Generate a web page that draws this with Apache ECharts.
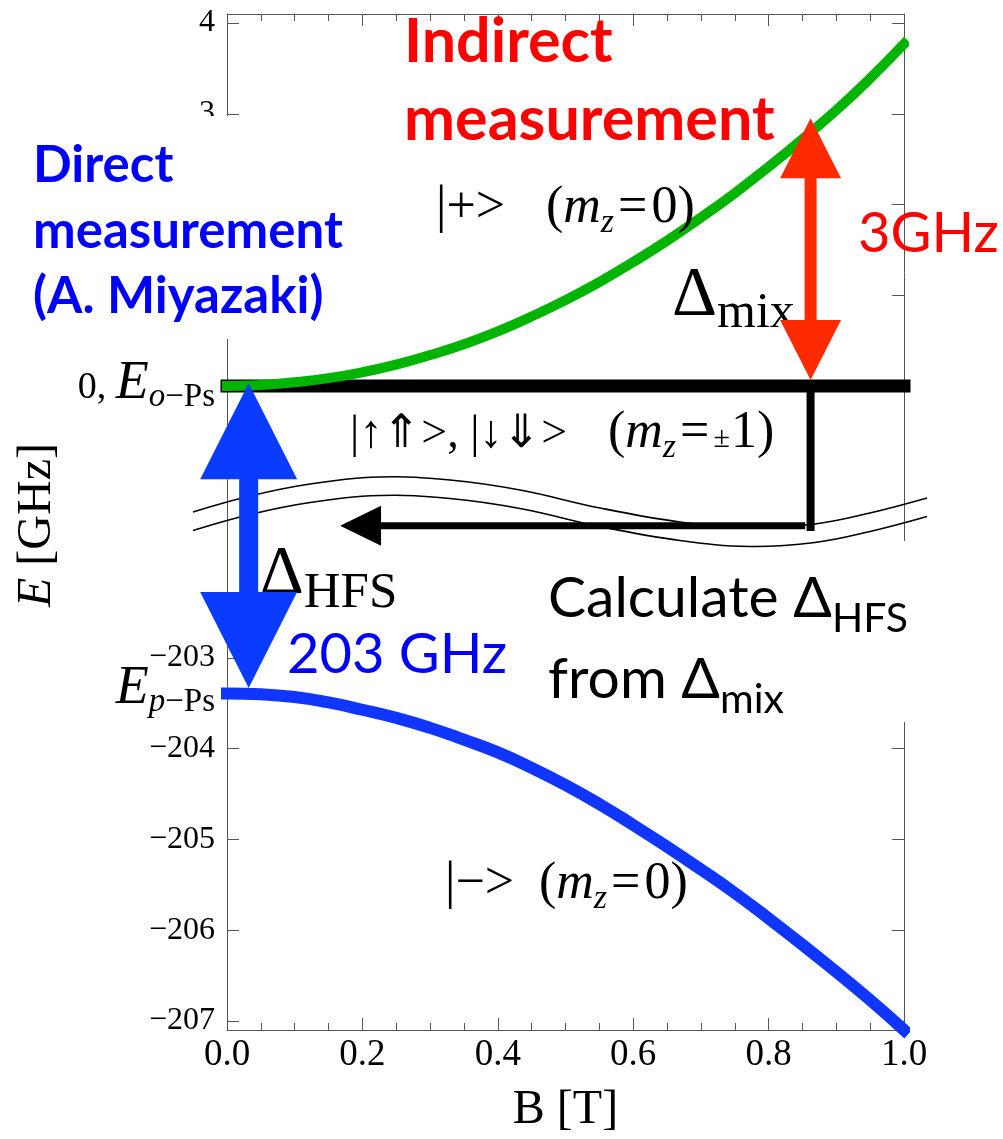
<!DOCTYPE html>
<html><head><meta charset="utf-8">
<script src="https://cdn.jsdelivr.net/npm/echarts@6/dist/echarts.min.js"></script>
<style>html,body{margin:0;padding:0;background:#fff}#c{width:1003px;height:1139px}</style>
</head><body><div id="c"></div>
<script>
// ---- data ----
const fieldB   = [0, 0.05, 0.1, 0.15, 0.2, 0.25, 0.3, 0.35, 0.4, 0.45, 0.5, 0.55, 0.6, 0.65, 0.7, 0.75, 0.8, 0.85, 0.9, 0.95, 1.0]; // B [T]
const ePlus    = [0, 0.01, 0.04, 0.085, 0.15, 0.235, 0.34, 0.46, 0.60, 0.765, 0.945, 1.145, 1.365, 1.60, 1.855, 2.125, 2.415, 2.72, 3.04, 3.39, 3.77]; // |+> (GHz)
const eMinus   = [-203.39, -203.40, -203.43, -203.49, -203.57, -203.66, -203.77, -203.90, -204.04, -204.21, -204.40, -204.61, -204.84, -205.08, -205.33, -205.59, -205.87, -206.16, -206.46, -206.77, -207.10]; // |-> (GHz)
const tripletB = [0, 1];
const eTriplet = [0, 0];                       // |↑⇑>, |↓⇓>
const mixB     = 0.862;                        // field where Δmix is measured
const mixArrow = [0.066, 2.95];                // Δmix arrow (GHz)
const hfsArrowB = 0.032;
const hfsArrowTop = 0.03, hfsArrowBottom = -203.33;
const calcArrowE = -1.543, calcArrowB = [0.854, 0.167];
const topTicks = [0, 1, 2, 3, 4];
const topLabels = [3, 4];
const lowTicks = [-203.39, -203, -204, -205, -206, -207];
const lowLabels = [-203, -204, -205, -206, -207];
const rightLowTicks = [-203, -204, -205, -206, -207];

const SERIF = '"Liberation Serif","Times New Roman",serif';
const SANS = 'Lato,"Noto Sans","Open Sans",sans-serif';
const frameColor = '#555';

const chart = echarts.init(document.getElementById('c'));
const pairs = (xs, ys) => xs.map((x, i) => [x, ys[i]]);

const axLine = {show: true, onZero: false, lineStyle: {color: frameColor, width: 1}};
const tick = (vals) => ({show: true, inside: true, length: 12, lineStyle: {color: frameColor}, customValues: vals});

chart.setOption({
  animation: false,
  grid: [
    {left: 227, top: 14, width: 677, height: 517},
    {left: 227, top: 531, width: 677, height: 499}
  ],
  xAxis: [
    {gridIndex: 0, type: 'value', position: 'top', min: 0, max: 1, interval: 0.2,
     axisLine: axLine, axisTick: {show: true, inside: true, length: 12, lineStyle: {color: frameColor}},
     minorTick: {show: true, splitNumber: 4, length: 7, lineStyle: {color: frameColor}},
     axisLabel: {show: false}, splitLine: {show: false}},
    {gridIndex: 1, type: 'value', position: 'bottom', min: 0, max: 1, interval: 0.2,
     axisLine: axLine, axisTick: {show: true, inside: true, length: 12, lineStyle: {color: frameColor}},
     minorTick: {show: true, splitNumber: 4, length: 7, lineStyle: {color: frameColor}},
     axisLabel: {show: true, margin: 7, fontFamily: SERIF, fontSize: 37, color: '#000', formatter: v => v.toFixed(1)},
     splitLine: {show: false},
     name: 'B [T]', nameLocation: 'middle', nameGap: 56,
     nameTextStyle: {fontFamily: SERIF, fontSize: 48, color: '#000'}}
  ],
  yAxis: [
    {gridIndex: 0, type: 'value', position: 'left', min: -1.6, max: 4.1,
     axisLine: axLine, axisTick: tick(topTicks), splitLine: {show: false},
     axisLabel: {customValues: topLabels, margin: 12, fontFamily: SERIF, fontSize: 32, color: '#000', formatter: v => String(v)}},
    {gridIndex: 0, type: 'value', position: 'right', min: -1.6, max: 4.1,
     axisLine: axLine, axisTick: tick(topTicks), splitLine: {show: false}, axisLabel: {show: false}},
    {gridIndex: 1, type: 'value', position: 'left', min: -207.1, max: -201.6,
     axisLine: axLine, axisTick: tick(lowTicks), splitLine: {show: false},
     axisLabel: {customValues: lowLabels, margin: 12, fontFamily: SERIF, fontSize: 32, color: '#000',
                 formatter: v => '\u2212' + Math.abs(v)}},
    {gridIndex: 1, type: 'value', position: 'right', min: -207.1, max: -201.6,
     axisLine: axLine, axisTick: tick(rightLowTicks), splitLine: {show: false}, axisLabel: {show: false}}
  ],
  series: [
    {type: 'line', xAxisIndex: 0, yAxisIndex: 0, data: pairs(tripletB, eTriplet), symbol: 'none', clip: false, z: 3,
     lineStyle: {color: '#000', width: 13, cap: 'square'}},
    {type: 'line', xAxisIndex: 0, yAxisIndex: 0, data: [[mixB, 0], [mixB, -1.6]], symbol: 'none', clip: false, z: 3,
     lineStyle: {color: '#000', width: 8}},
    {type: 'line', xAxisIndex: 0, yAxisIndex: 0, data: pairs(fieldB, ePlus), symbol: 'none', smooth: 0.5, clip: false, z: 4,
     lineStyle: {color: '#00b400', width: 10, cap: 'square', join: 'round'}},
    {type: 'line', xAxisIndex: 1, yAxisIndex: 2, data: pairs(fieldB, eMinus), symbol: 'none', smooth: 0.5, clip: false, z: 4,
     lineStyle: {color: '#0f35ff', width: 12, cap: 'square', join: 'round'}}
  ]
});

// ---- annotations ----
const mctx = document.createElement('canvas').getContext('2d');
function fnt(p) { return (p.italic ? 'italic ' : '') + (p.bold ? 'bold ' : '') + p.size + 'px ' + (p.family || SERIF); }
function run(x0, baseline, pieces, align, z, color) {
  const ws = pieces.map(p => { mctx.font = fnt(p); return mctx.measureText(p.t).width; });
  let total = 0; pieces.forEach((p, i) => total += ws[i] + (p.gap || 0));
  let x = align === 'right' ? x0 - total : x0;
  return pieces.map((p, i) => {
    if (p.x !== undefined) x = p.x; else x += (p.gap || 0);
    mctx.font = fnt(p); mctx.textBaseline = 'middle';
    const off = mctx.measureText('H').actualBoundingBoxDescent;
    const el = {type: 'text', x: x, y: baseline + (p.dy || 0) - off, z: z || 20, silent: true,
      style: {text: p.t, font: fnt(p), fill: p.color || color || '#000', align: 'left', verticalAlign: 'middle'}};
    x += ws[i];
    return el;
  });
}
const px = (g, b, e) => chart.convertToPixel(g === 0 ? {xAxisIndex: 0, yAxisIndex: 0} : {xAxisIndex: 1, yAxisIndex: 2}, [b, e]);

const G = [];
// white boxes of the text blocks
G.push({type: 'rect', shape: {x: 20, y: 116, width: 345, height: 223}, style: {fill: '#fff'}, z: 10, silent: true});
G.push({type: 'rect', shape: {x: 535, y: 541, width: 395, height: 181}, style: {fill: '#fff'}, z: 10, silent: true});

// axis-break wavy lines
const wave = [[193,512],[250,496],[310,484],[380,477],[450,480],[520,490],[600,508],[680,522],[750,528],[815,524],[870,513],[927,498]];
[0, 18.5].forEach(d => G.push({type: 'polyline', z: 12, silent: true,
  shape: {points: wave.map(p => [p[0], p[1] + d]), smooth: 0.4},
  style: {stroke: '#000', lineWidth: 1.6, fill: null}}));

// arrows
function vArrow(cx, yT, yB, hl, hh, sh, color, z) {
  return {type: 'polygon', z: z, silent: true, style: {fill: color},
    shape: {points: [[cx, yT], [cx + hh, yT + hl], [cx + sh, yT + hl], [cx + sh, yB - hl], [cx + hh, yB - hl], [cx, yB],
                     [cx - hh, yB - hl], [cx - sh, yB - hl], [cx - sh, yT + hl], [cx - hh, yT + hl]]}};
}
const hT = px(0, hfsArrowB, hfsArrowTop), hB = px(1, hfsArrowB, hfsArrowBottom);
G.push(vArrow(hT[0], hT[1], hB[1], 96, 48.5, 9.5, '#0a3cff', 30));
const mT = px(0, mixB, mixArrow[1]), mB = px(0, mixB, mixArrow[0]);
G.push(vArrow(mT[0], mT[1], mB[1], 60, 30.5, 6, '#ff2a00', 30));
const cS = px(0, calcArrowB[0], calcArrowE), cT = px(0, calcArrowB[1], calcArrowE);
G.push({type: 'polygon', z: 30, silent: true, style: {fill: '#000'},
  shape: {points: [[cT[0], cT[1]], [cT[0] + 41, cT[1] - 20], [cT[0] + 41, cT[1] - 3.5], [cS[0], cS[1] - 3.5],
                   [cS[0], cS[1] + 3.5], [cT[0] + 41, cT[1] + 3.5], [cT[0] + 41, cT[1] + 20]]}});

// text blocks (Calibri-like)
const RED = '#ff0000', BLUE = '#0000ff';
G.push(...run(404, 62, [{t: 'Indirect', size: 61, bold: true, family: SANS}], 'left', 25, RED));
G.push(...run(404, 140, [{t: 'measurement', size: 61, bold: true, family: SANS}], 'left', 25, RED));
G.push(...run(33, 182, [{t: 'Direct', size: 51, bold: true, family: SANS}], 'left', 25, BLUE));
G.push(...run(33, 248, [{t: 'measurement', size: 51, bold: true, family: SANS}], 'left', 25, BLUE));
G.push(...run(33, 313, [{t: '(A. Miyazaki)', size: 51, bold: true, family: SANS}], 'left', 25, BLUE));
G.push(...run(858, 252, [{t: '3GHz', size: 56, family: SANS}], 'left', 25, RED));
G.push(...run(287, 673, [{t: '203 GHz', size: 56, family: SANS}], 'left', 25, BLUE));
G.push(...run(548, 617, [{t: 'Calculate ', size: 57, family: SANS}, {t: '\u0394', size: 57, family: SANS},
                         {t: 'HFS', size: 41, family: SANS, dy: 15}], 'left', 25));
G.push(...run(548, 698, [{t: 'from ', size: 57, family: SANS}, {t: '\u0394', size: 57, family: SANS},
                         {t: 'mix', size: 41, family: SANS, dy: 15}], 'left', 25));

// math labels (serif)
G.push(...run(672, 315, [{t: '\u0394', size: 70}, {t: 'mix', size: 50, dy: 12}], 'left', 25));
G.push(...run(260, 592, [{t: '\u0394', size: 68}, {t: 'HFS', size: 51, dy: 15}], 'left', 25));
function mz(x, tail) {
  return [{t: '(', size: 52, x: x}, {t: 'm', size: 52, italic: true}, {t: 'z', size: 34, italic: true, dy: 10},
          {t: '=', size: 52, gap: 4}].concat(tail);
}
G.push(...run(436, 222, [{t: '|+>', size: 52}].concat(mz(546, [{t: '0', size: 52, gap: 4}, {t: ')', size: 52}])), 'left', 22));
G.push(...run(350, 447, [{t: '|\u2191\u21D1>, |\u2193\u21D3>', size: 46}].concat(
  mz(608, [{t: '\u00B1', size: 30, gap: 4}, {t: '1', size: 52, gap: 1}, {t: ')', size: 52}])), 'left', 22));
G.push(...run(445, 898, [{t: '|\u2212>', size: 52}].concat(mz(539, [{t: '0', size: 52, gap: 4}, {t: ')', size: 52}])), 'left', 22));

// special tick labels
G.push(...run(215, 398, [{t: '0, ', size: 38}, {t: 'E', size: 54, italic: true},
                         {t: 'o', size: 33, italic: true, dy: 8}, {t: '\u2212Ps', size: 33, dy: 8}], 'right', 22));
G.push(...run(215, 703, [{t: 'E', size: 54, italic: true},
                         {t: 'p', size: 33, italic: true, dy: 8}, {t: '\u2212Ps', size: 33, dy: 8}], 'right', 22));

// y axis title (rotated)
(function () {
  const p1 = {t: 'E', size: 48, italic: true}, p2 = {t: ' [GHz]', size: 48};
  mctx.font = fnt(p1); const w1 = mctx.measureText(p1.t).width;
  mctx.font = fnt(p2); const w2 = mctx.measureText(p2.t).width;
  const cy = 525, cx = 37, y0 = cy + (w1 + w2) / 2;
  G.push({type: 'text', x: cx, y: y0, rotation: Math.PI / 2, z: 22, silent: true,
          style: {text: p1.t, font: fnt(p1), fill: '#000', align: 'left', verticalAlign: 'middle'}});
  G.push({type: 'text', x: cx, y: y0 - w1, rotation: Math.PI / 2, z: 22, silent: true,
          style: {text: p2.t, font: fnt(p2), fill: '#000', align: 'left', verticalAlign: 'middle'}});
})();

chart.setOption({graphic: G});
</script></body></html>
